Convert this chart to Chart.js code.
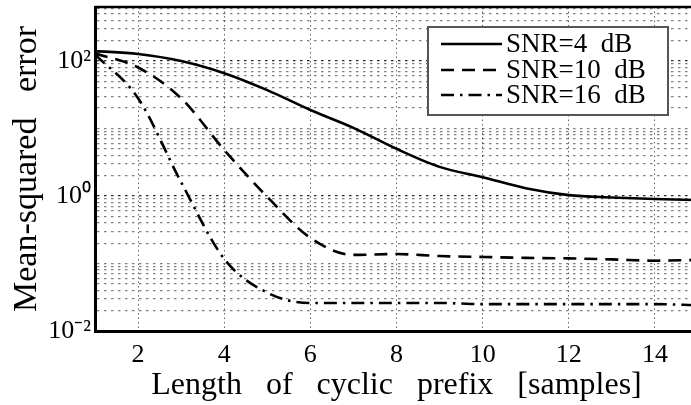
<!DOCTYPE html>
<html>
<head>
<meta charset="utf-8">
<script src="https://cdn.jsdelivr.net/npm/chart.js@4"></script>
<style>
  html, body { margin: 0; padding: 0; background: #fff; overflow: hidden; }
  #wrap { width: 700px; height: 405px; }
</style>
</head>
<body>
<div id="wrap"><canvas id="chart" width="700" height="405"></canvas></div>
<script>
// cyclic prefix length (samples)
const xValues = [1, 2, 3, 4, 5, 6, 7, 8, 9, 10, 11, 12, 13, 14, 15];
// mean-squared error per SNR
const snr4 = [140, 127, 100, 66, 37, 18.8, 10.2, 5.0, 2.7, 1.9, 1.3, 1.03, 0.95, 0.9, 0.87];
const snr10 = [130, 80, 28, 4.8, 0.97, 0.24, 0.134, 0.138, 0.129, 0.125, 0.121, 0.119, 0.115, 0.11, 0.113];
const snr16 = [125, 28, 1.6, 0.117, 0.037, 0.026, 0.026, 0.026, 0.026, 0.025, 0.025, 0.025, 0.025, 0.025, 0.024];
const seriesNames = ["SNR=4  dB", "SNR=10  dB", "SNR=16  dB"];

const xTicks = [2, 4, 6, 8, 10, 12, 14];
const yMajor = [0.01, 1, 100];
const yMajorLabels = ["10\u207B\u00B2", "10\u2070", "10\u00B2"];
const yMin = 0.01;
const yMax = 630;

// minor grid of the log axis
var yGrid = [];
for (var d = -2; d <= 2; d++) {
  for (var k = 1; k <= 9; k++) {
    var v = k * Math.pow(10, d);
    if (v <= yMax) yGrid.push(+v.toPrecision(3));
  }
}

const serif = "'Liberation Serif', 'Times New Roman', serif";

function pts(arr) {
  return arr.map(function (y, i) { return { x: xValues[i], y: y }; });
}

const frame = {
  id: "frame",
  afterDraw: function (chart) {
    var ctx = chart.ctx;
    var a = chart.chartArea;
    ctx.save();
    ctx.strokeStyle = "#000";
    ctx.lineWidth = 2.5;
    ctx.beginPath();
    ctx.moveTo(a.left, a.top);
    ctx.lineTo(a.right + 2, a.top);
    ctx.stroke();

    // legend box
    var bx = 428, by = 27, bw = 240, bh = 88;
    ctx.fillStyle = "#fff";
    ctx.fillRect(bx, by, bw, bh);
    ctx.strokeStyle = "#555";
    ctx.lineWidth = 2;
    ctx.strokeRect(bx, by, bw, bh);
    var rows = [44, 70, 95];
    ctx.font = "27px " + serif;
    ctx.textBaseline = "middle";
    ctx.textAlign = "left";
    chart.data.datasets.forEach(function (ds, i) {
      ctx.strokeStyle = "#000";
      ctx.lineWidth = ds.borderWidth;
      ctx.setLineDash(ds.borderDash || []);
      ctx.beginPath();
      ctx.moveTo(441, rows[i]);
      ctx.lineTo(502, rows[i]);
      ctx.stroke();
      ctx.setLineDash([]);
      ctx.fillStyle = "#000";
      ctx.fillText(ds.label, 506, rows[i] + 1);
    });
    ctx.restore();
  }
};

new Chart(document.getElementById("chart"), {
  type: "line",
  data: {
    datasets: [
      { label: seriesNames[0], data: pts(snr4), borderColor: "#000", borderWidth: 2.6, borderDash: [] },
      { label: seriesNames[1], data: pts(snr10), borderColor: "#000", borderWidth: 2.6, borderDash: [13, 8] },
      { label: seriesNames[2], data: pts(snr16), borderColor: "#000", borderWidth: 2.6, borderDash: [13, 6, 2.5, 6] }
    ]
  },
  options: {
    responsive: false,
    animation: false,
    devicePixelRatio: 1,
    layout: { padding: { top: 7, right: 2, left: 0, bottom: 0 } },
    elements: {
      point: { radius: 0 },
      line: { cubicInterpolationMode: "monotone", fill: false }
    },
    plugins: { legend: { display: false }, tooltip: { enabled: false } },
    scales: {
      x: {
        type: "linear",
        min: 1,
        max: 15,
        afterBuildTicks: function (scale) {
          scale.ticks = xTicks.map(function (v) { return { value: v }; });
        },
        afterFit: function (scale) {
          scale.height = 74;
          scale.paddingLeft = 0;
          scale.paddingRight = 0;
        },
        ticks: { color: "#000", font: { family: serif, size: 26 }, padding: 9, autoSkip: false, maxRotation: 0 },
        grid: { color: "rgba(0,0,0,0.6)", lineWidth: 1, drawTicks: false },
        border: { display: true, color: "#000", width: 3, dash: [1.5, 3] },
        title: {
          display: true,
          text: "Length   of   cyclic   prefix   [samples]",
          color: "#000",
          font: { family: serif, size: 32 },
          padding: { top: 0, bottom: 0 }
        }
      },
      y: {
        type: "logarithmic",
        min: yMin,
        max: yMax,
        afterBuildTicks: function (scale) {
          scale.ticks = yGrid.map(function (v) { return { value: v, major: yMajor.indexOf(v) >= 0 }; });
        },
        afterFit: function (scale) {
          scale.width = 95;
          scale.paddingTop = 0;
          scale.paddingBottom = 0;
        },
        ticks: {
          color: "#000",
          font: { family: serif, size: 26 },
          padding: 4,
          autoSkip: false,
          callback: function (value) {
            var i = yMajor.indexOf(+(+value).toPrecision(3));
            return i >= 0 ? yMajorLabels[i] : "";
          }
        },
        grid: {
          color: function (c) {
            return c.tick && yMajor.indexOf(c.tick.value) >= 0 ? "rgba(0,0,0,0.85)" : "rgba(0,0,0,0.5)";
          },
          lineWidth: 1.3,
          drawTicks: false
        },
        border: { display: true, color: "#000", width: 3, dash: [2.5, 4.5] },
        title: {
          display: true,
          text: "Mean-squared   error",
          color: "#000",
          font: { family: serif, size: 34 },
          padding: { top: 7, bottom: 0 }
        }
      }
    }
  },
  plugins: [frame]
});
</script>
</body>
</html>
